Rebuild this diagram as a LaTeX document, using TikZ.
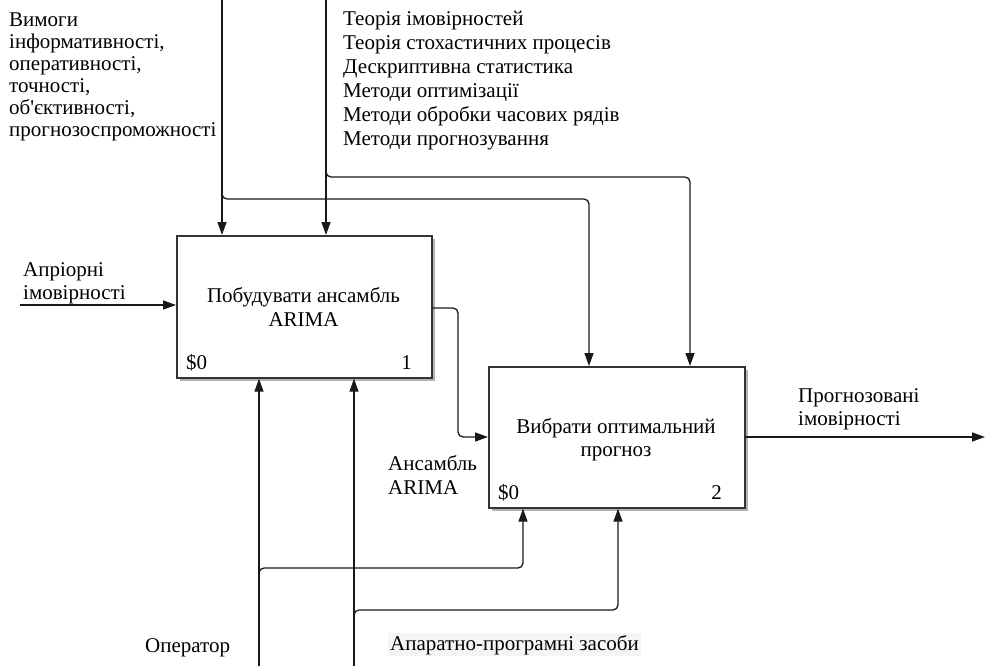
\documentclass[tikz,border=0pt]{standalone}
\usepackage{fontspec}
\setmainfont{Liberation Serif}
\usetikzlibrary{arrows.meta,shadows}

% multi-line text whose reference point is the baseline of the first line
\newcommand{\txtlines}[2][l]{\begin{tabular}[t]{@{}#1@{}}#2\end{tabular}}

\begin{document}
\begin{tikzpicture}[x=1pt,y=-1pt,
  func/.style={draw=black!80, line width=1.7pt, fill=white, anchor=north west,
    inner sep=0pt, minimum width=255pt, minimum height=142pt,
    drop shadow={shadow xshift=3pt, shadow yshift=-3pt, fill=black!30, opacity=1}},
  flow/.style={draw=black!90, line width=1.3pt, rounded corners=5pt,
    -{Triangle[length=13pt,width=9pt]}},
  lbl/.style={inner sep=0pt, anchor=base west, font=\fontsize{21}{22}\selectfont},
  mid/.style={inner sep=0pt, anchor=base, font=\fontsize{21}{24}\selectfont},
  tag/.style={inner sep=0pt, anchor=base west, font=\fontsize{21}{22}\selectfont}]

\useasboundingbox (0,0) rectangle (985,666);

% activity boxes
\node[func] (b1) at (176,235) {};
\node[func, minimum width=256pt, minimum height=141pt] (b2) at (488,366) {};

\node[mid] (b1t) at (303.5,302) {\txtlines[c]{Побудувати ансамбль\\ARIMA}};
\node[tag] (b1n) at (186,369) {\$0};
\node[tag, anchor=base east] (b1i) at (412,369) {1};
\node[mid, font=\fontsize{21}{23}\selectfont] (b2t) at (616,433) {\txtlines[c]{Вибрати оптимальний\\прогноз}};
\node[tag] (b2n) at (498,499) {\$0};
\node[tag, anchor=base east] (b2i) at (722,499) {2};

% free ends and bend points of the connectors
\coordinate (c1) at (222,0);
\coordinate (c2) at (326,0);
\coordinate (k1) at (589,199);
\coordinate (k2) at (690,177);
\coordinate (in) at (20,305);
\coordinate (o1) at (458,308);
\coordinate (o2) at (458,437);
\coordinate (out) at (985,437);
\coordinate (m1) at (259,666);
\coordinate (m2) at (354,666);
\coordinate (k3) at (523,568);
\coordinate (k4) at (618,610);

% controls
\draw[flow] (c1) -- (c1 |- b1.north);
\draw[flow] (c2) -- (c2 |- b1.north);
\draw[flow] (c1) |- (k1) -- (k1 |- b2.north);
\draw[flow] (c2) |- (k2) -- (k2 |- b2.north);

% input and outputs
\draw[flow] (in) -- (in -| b1.west);
\draw[flow] (o1 -| b1.east) -- (o1) -- (o2) -- (o2 -| b2.west);
\draw[flow] (o2 -| b2.east) -- (out);

% mechanisms
\draw[flow] (m1) -- (m1 |- b1.south);
\draw[flow] (m2) -- (m2 |- b1.south);
\draw[flow] (m1) |- (k3) -- (k3 |- b2.south);
\draw[flow] (m2) |- (k4) -- (k4 |- b2.south);

% arrow labels
\node[lbl] (req) at (9,27) {\txtlines{Вимоги\\інформативності,\\оперативності,\\точності,\\об\textquotesingle єктивності,\\прогнозоспроможності}};
\node[lbl, font=\fontsize{21}{24}\selectfont] (theory) at (343,26) {\txtlines{Теорія імовірностей\\Теорія стохастичних процесів\\Дескриптивна статистика\\Методи оптимізації\\Методи обробки часових рядів\\Методи прогнозування}};
\node[lbl, font=\fontsize{21}{23}\selectfont] (prior) at (23,276) {\txtlines{Апріорні\\імовірності}};
\node[lbl, font=\fontsize{21}{23}\selectfont] (fc) at (798,402) {\txtlines{Прогнозовані\\імовірності}};
\node[lbl, font=\fontsize{21}{24}\selectfont] (ens) at (388,470) {\txtlines{Ансамбль\\ARIMA}};
\node[lbl] (op) at (145,652) {Оператор};
\node[lbl, fill=black!4, inner sep=2pt] (hw) at (388,650) {Апаратно-програмні засоби};

\end{tikzpicture}
\end{document}
